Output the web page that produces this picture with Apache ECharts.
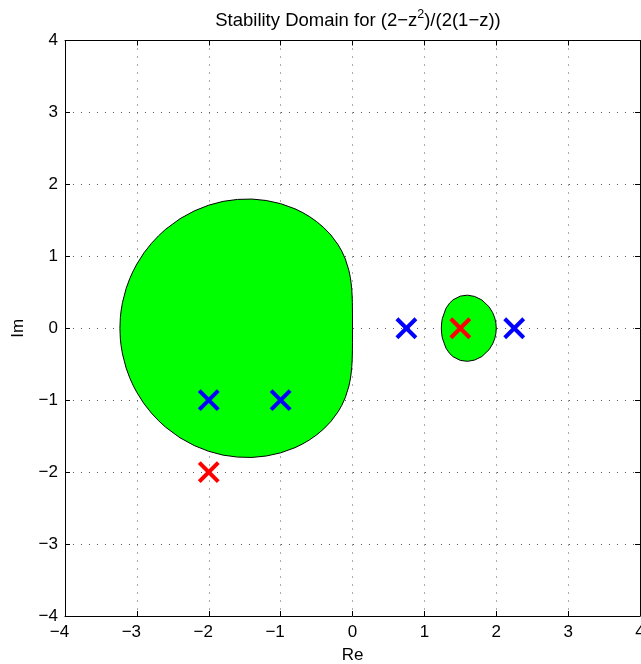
<!DOCTYPE html>
<html>
<head>
<meta charset="utf-8">
<script src="https://cdn.jsdelivr.net/npm/echarts@6/dist/echarts.min.js"></script>
<style>
html,body{margin:0;padding:0;background:#fff;}
#chart{width:641px;height:664px;}
</style>
</head>
<body>
<div id="chart"></div>
<script>
// Tick values
var xTicks = [-4, -3, -2, -1, 0, 1, 2, 3, 4];
var yTicks = [-4, -3, -2, -1, 0, 1, 2, 3, 4];

// Upper half of the boundary of the large stability region (x, y)
var bigRegionUpper = [
  [-3.236, 0], [-3.23, 0.148], [-3.22, 0.240], [-3.2, 0.359], [-3.15, 0.551],
  [-3.1, 0.688], [-3.05, 0.799], [-3.0, 0.893], [-2.9, 1.050], [-2.8, 1.177],
  [-2.7, 1.284], [-2.6, 1.376], [-2.4, 1.523], [-2.2, 1.632], [-2.0, 1.711],
  [-1.8, 1.764], [-1.6, 1.791], [-1.4, 1.796], [-1.2, 1.776], [-1.0, 1.732],
  [-0.8, 1.660], [-0.7, 1.611], [-0.6, 1.553], [-0.5, 1.483], [-0.4, 1.399],
  [-0.3, 1.295], [-0.2, 1.160], [-0.15, 1.073], [-0.1, 0.963], [-0.05, 0.803],
  [-0.03, 0.705], [-0.02, 0.635], [-0.01, 0.533], [-0.005, 0.448],
  [-0.002, 0.356], [-0.001, 0.299], [-0.0002, 0.200], [0, 0]
];

// Upper half of the boundary of the small stability region (x, y)
var smallRegionUpper = [
  [1.236, 0], [1.24, 0.073], [1.25, 0.136], [1.3, 0.276], [1.35, 0.349],
  [1.4, 0.396], [1.5, 0.447], [1.6, 0.460], [1.7, 0.442], [1.8, 0.393],
  [1.9, 0.298], [1.95, 0.217], [1.98, 0.140], [1.995, 0.071], [2.0, 0]
];

// Marker points
var bluePoints = [[-2, -1], [-1, -1], [0.75, 0], [2.25, 0]];
var redPoints = [[-2, -2], [1.5, 0]];

function closedLoop(upper) {
  var pts = upper.slice();
  for (var i = upper.length - 2; i > 0; i--) {
    pts.push([upper[i][0], -upper[i][1]]);
  }
  return pts;
}
var regions = [closedLoop(bigRegionUpper), closedLoop(smallRegionUpper)];

function fmt(v) {
  return String(v).replace('-', '\u2212');
}

var FONT = 'Liberation Sans, Arial, Helvetica, sans-serif';
var LBL = 17;
var chart = echarts.init(document.getElementById('chart'), null, {renderer: 'canvas'});

var axisCommon = {
  type: 'value', min: -4, max: 4, interval: 1,
  axisLine: {show: true, onZero: false, lineStyle: {color: '#000', width: 1}},
  axisTick: {show: true, inside: true, length: 5, lineStyle: {color: '#000'}},
  splitLine: {show: false}
};

var option = {
  animation: false,
  backgroundColor: '#fff',
  title: {
    text: '{a|Stability Domain for (2\u2212z}{s|2}{a|)/(2(1\u2212z))}',
    left: 353, top: 3, textAlign: 'center',
    textStyle: {
      fontWeight: 'normal',
      rich: {
        a: {fontFamily: FONT, fontSize: 18.5, fontWeight: 'normal', color: '#000'},
        s: {fontFamily: FONT, fontSize: 12.5, fontWeight: 'normal', color: '#000', padding: [0, 0, 12, 0]}
      }
    }
  },
  grid: {left: 65, right: 1, top: 40.5, bottom: 48, containLabel: false, outerBoundsMode: 'none'},
  xAxis: [
    Object.assign({}, axisCommon, {
      position: 'bottom',
      name: 'Re', nameLocation: 'middle', nameGap: 31,
      nameTextStyle: {fontFamily: FONT, fontSize: LBL, color: '#000'},
      axisLabel: {
        show: true, margin: 8, showMinLabel: true, showMaxLabel: true,
        fontFamily: FONT, fontSize: LBL, color: '#000',
        formatter: function (v) { return v < 0 ? '{n|' + fmt(v) + '}' : '{p|' + v + '}'; },
        rich: {
          n: {fontFamily: FONT, fontSize: LBL, color: '#000', padding: [0, 11, 0, 0]},
          p: {fontFamily: FONT, fontSize: LBL, color: '#000'}
        }
      },
      splitLine: {show: true, lineStyle: {color: '#555', width: 1, type: [1, 7]}}
    }),
    Object.assign({}, axisCommon, {position: 'top', axisLabel: {show: false}})
  ],
  yAxis: [
    Object.assign({}, axisCommon, {
      position: 'left',
      name: 'Im', nameLocation: 'middle', nameGap: 38, nameRotate: 90,
      nameTextStyle: {fontFamily: FONT, fontSize: LBL, color: '#000'},
      axisLabel: {
        show: true, margin: 7, showMinLabel: true, showMaxLabel: true,
        fontFamily: FONT, fontSize: LBL, color: '#000',
        formatter: fmt
      },
      splitLine: {show: true, lineStyle: {color: '#555', width: 1, type: [1, 7]}}
    }),
    Object.assign({}, axisCommon, {position: 'right', axisLabel: {show: false}})
  ],
  series: [
    {
      type: 'custom',
      xAxisIndex: 0, yAxisIndex: 0,
      data: regions.map(function (r, i) { return [r[0][0], r[0][1], i]; }),
      renderItem: function (params, api) {
        var pts = regions[api.value(2)].map(function (p) { return api.coord(p); });
        return {
          type: 'polygon',
          shape: {points: pts},
          style: {fill: '#00ff00', stroke: '#000', lineWidth: 1}
        };
      },
      silent: true, z: 2
    },
    {
      type: 'custom',
      xAxisIndex: 0, yAxisIndex: 0,
      data: bluePoints.map(function (p) { return [p[0], p[1], 0]; })
        .concat(redPoints.map(function (p) { return [p[0], p[1], 1]; })),
      renderItem: function (params, api) {
        var c = api.coord([api.value(0), api.value(1)]);
        var color = api.value(2) === 1 ? '#ff0000' : '#0000ff';
        var h = 9.5;
        var st = {stroke: color, lineWidth: 4, lineCap: 'butt'};
        return {
          type: 'group',
          children: [
            {type: 'line', shape: {x1: c[0] - h, y1: c[1] - h, x2: c[0] + h, y2: c[1] + h}, style: st},
            {type: 'line', shape: {x1: c[0] - h, y1: c[1] + h, x2: c[0] + h, y2: c[1] - h}, style: st}
          ]
        };
      },
      silent: true, z: 3
    }
  ]
};
chart.setOption(option);
</script>
</body>
</html>
